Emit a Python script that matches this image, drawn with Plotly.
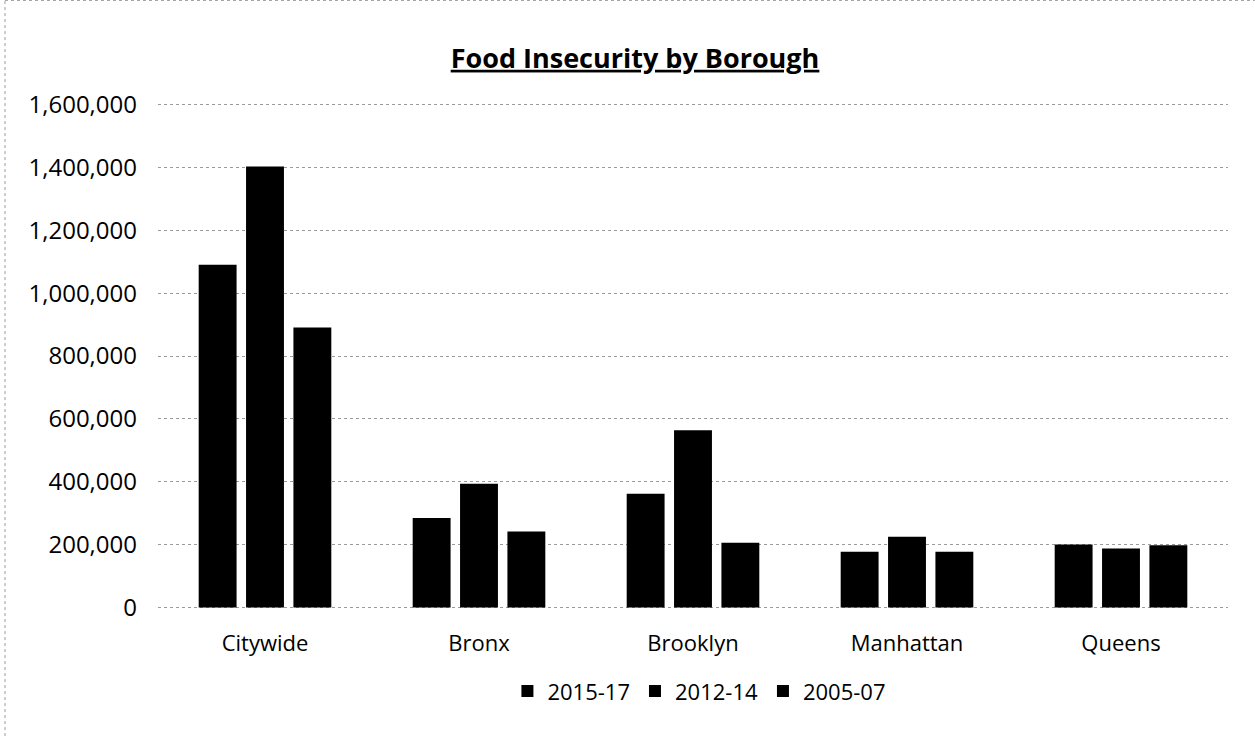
import plotly.graph_objects as go

categories = ["Citywide", "Bronx", "Brooklyn", "Manhattan", "Queens"]
series_names = ["2015-17", "2012-14", "2005-07"]
values_2015_17 = [1090000, 285000, 362000, 177000, 200000]
values_2012_14 = [1403000, 394000, 564000, 225000, 188000]
values_2005_07 = [891000, 242000, 206000, 177000, 198000]
y_ticks = [0, 200000, 400000, 600000, 800000, 1000000, 1200000, 1400000, 1600000]
y_tick_labels = ["0", "200,000", "400,000", "600,000", "800,000", "1,000,000",
                 "1,200,000", "1,400,000", "1,600,000"]

FONT = "Open Sans"
fig = go.Figure()
for name, vals in zip(series_names, [values_2015_17, values_2012_14, values_2005_07]):
    fig.add_trace(go.Bar(x=categories, y=vals, name=name,
                         marker=dict(color="#000000", line=dict(width=0))))

fig.update_layout(
    width=1255, height=738,
    paper_bgcolor="white", plot_bgcolor="white",
    margin=dict(l=158, r=27, t=102, b=128),
    barmode="group", bargap=0.336, bargroupgap=0.2,
    font=dict(family=FONT, color="#000000", size=22),
    title=dict(text="<b><u>Food Insecurity by Borough</u></b>", x=0.506, xanchor="center",
               y=0.921, yanchor="middle", font=dict(size=27, family=FONT)),
    legend=dict(orientation="h", x=0.506, xanchor="center", y=-0.16, yanchor="middle",
                font=dict(size=22), itemwidth=30, traceorder="normal"),
    showlegend=True,
)
fig.update_xaxes(showline=False, ticks="", tickfont=dict(size=22), showgrid=False,
                 ticklabelstandoff=18)
fig.update_yaxes(range=[-8000, 1608000], tickvals=y_ticks, ticktext=y_tick_labels,
                 showgrid=True, gridcolor="#9a9a9a", griddash="dot", gridwidth=1,
                 zeroline=False, showline=False, ticks="", ticklabelstandoff=20,
                 tickfont=dict(size=24))
# faint dotted frame edges (left and top) as in the reference
fig.add_shape(type="line", xref="paper", yref="paper", x0=-0.143, x1=-0.143, y0=-0.26, y1=1.2,
              line=dict(color="#9a9a9a", width=1, dash="dot"))
fig.add_shape(type="line", xref="paper", yref="paper", x0=-0.143, x1=1.025, y0=1.2, y1=1.2,
              line=dict(color="#9a9a9a", width=1, dash="dot"))
fig.write_html("out.html")
